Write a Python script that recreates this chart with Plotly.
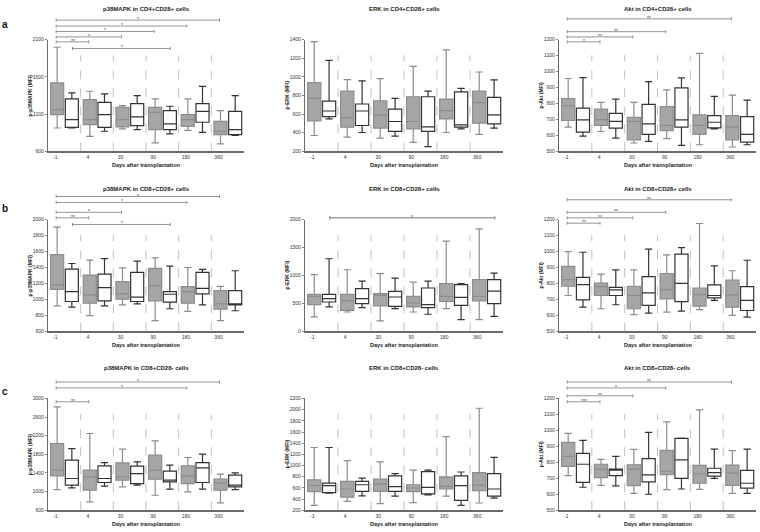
import plotly.graph_objects as go

# ---------------- data ----------------
days = ["-1", "4", "30", "90", "180", "360"]

panel_titles = [
    "p38MAPK in CD4+CD28+ cells", "ERK in CD4+CD28+ cells", "Akt in CD4+CD28+ cells",
    "p38MAPK in CD8+CD28+ cells", "ERK in CD8+CD28+ cells", "Akt in CD8+CD28+ cells",
    "p38MAPK in CD8+CD28- cells", "ERK in CD8+CD28- cells", "Akt in CD8+CD28- cells",
]
y_titles = ["p-p38MAPK (MFI)", "p-ERK (MFI)", "p-Akt (MFI)"] * 3
row_letters = ["a", "b", "c"]

y_ranges = [
    [600, 2100], [200, 1400], [500, 1200],
    [600, 2000], [0, 2000], [500, 1200],
    [600, 3000], [200, 2200], [500, 1200],
]
y_ticks = [
    [600, 1100, 1600, 2100], list(range(200, 1401, 200)), list(range(500, 1201, 100)),
    list(range(600, 2001, 200)), list(range(0, 2001, 500)), list(range(500, 1201, 100)),
    list(range(600, 3001, 400)), list(range(200, 2201, 200)), list(range(500, 1201, 100)),
]

# gray (filled) series: lower whisker, Q1, median, Q3, upper whisker per day
gray_lo = [
    [913, 801, 900, 712, 882, 699],
    [370, 353, 342, 296, 402, 381],
    [651, 624, 552, 579, 541, 527],
    [919, 795, 931, 733, 849, 733],
    [256, 345, 185, 345, 405, 208],
    [724, 641, 604, 620, 635, 599],
    [1044, 779, 1101, 922, 994, 758],
    [288, 358, 317, 335, 451, 329],
    [717, 656, 606, 629, 631, 606],
]
gray_q1 = [
    [1093, 958, 927, 891, 936, 824],
    [527, 459, 449, 441, 548, 502],
    [693, 662, 572, 630, 606, 572],
    [1126, 952, 1002, 981, 952, 878],
    [476, 375, 452, 435, 536, 542],
    [782, 724, 641, 703, 657, 651],
    [1338, 1030, 1245, 1266, 1173, 1030],
    [533, 434, 539, 533, 580, 551],
    [775, 704, 654, 723, 669, 656],
]
gray_med = [
    [1160, 1025, 1025, 1124, 1025, 869],
    [768, 562, 591, 520, 637, 722],
    [786, 699, 688, 662, 662, 651],
    [1180, 1056, 1068, 1172, 1097, 944],
    [625, 548, 643, 506, 625, 625],
    [823, 780, 724, 761, 730, 728],
    [1460, 1316, 1316, 1460, 1331, 1187],
    [639, 580, 668, 598, 627, 650],
    [837, 758, 758, 744, 727, 733],
]
gray_q3 = [
    [1518, 1294, 1191, 1191, 1093, 1003],
    [938, 846, 743, 786, 761, 846],
    [831, 765, 713, 780, 728, 724],
    [1561, 1304, 1221, 1387, 1159, 1109],
    [661, 661, 673, 625, 851, 923],
    [906, 802, 782, 862, 771, 821],
    [2033, 1460, 1617, 1782, 1553, 1266],
    [744, 715, 756, 656, 796, 873],
    [925, 788, 785, 875, 781, 783],
]
gray_hi = [
    [1997, 1406, 1213, 1303, 1303, 1146],
    [1379, 970, 981, 1112, 1290, 1052],
    [956, 806, 806, 885, 1113, 852],
    [1905, 1491, 1395, 1520, 1399, 1163],
    [1012, 1101, 1030, 881, 1613, 1833],
    [999, 858, 885, 978, 1175, 879],
    [2821, 2248, 1911, 2090, 1732, 1374],
    [1323, 1089, 1066, 919, 1516, 2025],
    [981, 819, 881, 1054, 1129, 873],
]

# white (open) series
white_lo = [
    [913, 869, 891, 833, 855, 815],
    [548, 402, 363, 250, 441, 449],
    [595, 583, 562, 537, 641, 541],
    [902, 919, 944, 882, 931, 857],
    [435, 423, 405, 304, 208, 268],
    [651, 666, 614, 626, 693, 589],
    [1080, 1116, 1137, 1051, 1051, 1044],
    [504, 457, 451, 475, 288, 416],
    [644, 652, 600, 633, 700, 606],
]
white_q1 = [
    [922, 922, 945, 891, 990, 824],
    [573, 477, 413, 413, 459, 495],
    [620, 645, 606, 651, 647, 558],
    [973, 981, 973, 965, 1068, 930],
    [524, 494, 446, 423, 464, 494],
    [697, 724, 662, 686, 709, 630],
    [1137, 1195, 1173, 1209, 1195, 1101],
    [516, 539, 539, 492, 375, 451],
    [675, 717, 677, 700, 713, 638],
]
white_med = [
    [1025, 1093, 1061, 967, 1137, 891],
    [633, 633, 520, 463, 484, 591],
    [697, 688, 672, 697, 682, 606],
    [1097, 1147, 1027, 1064, 1138, 935],
    [583, 583, 613, 476, 607, 720],
    [792, 759, 740, 800, 724, 693],
    [1281, 1281, 1388, 1245, 1510, 1137],
    [639, 656, 621, 609, 639, 580],
    [788, 752, 721, 815, 735, 669],
]
white_q3 = [
    [1303, 1258, 1240, 1146, 1240, 1137],
    [740, 708, 654, 786, 839, 779],
    [771, 738, 794, 898, 724, 717],
    [1379, 1317, 1337, 1097, 1337, 1109],
    [661, 762, 714, 774, 833, 923],
    [838, 775, 842, 983, 790, 780],
    [1675, 1553, 1546, 1438, 1624, 1352],
    [685, 715, 814, 890, 814, 855],
    [856, 758, 823, 950, 763, 750],
]
white_hi = [
    [1384, 1370, 1348, 1205, 1473, 1348],
    [1176, 956, 768, 846, 875, 967],
    [962, 827, 937, 960, 844, 821],
    [1449, 1511, 1478, 1416, 1375, 1358],
    [1298, 899, 952, 899, 851, 1042],
    [995, 885, 1014, 1024, 910, 945],
    [1925, 1624, 1639, 1567, 1804, 1402],
    [1323, 773, 855, 919, 884, 1147],
    [937, 837, 988, 952, 883, 883],
]

# significance comparisons: (panel, from day, from series, to day, to series, label)
# series: 0 = gray, 1 = white
sig_pairs = [
    (0, 0, 0, 5, 0, "*"), (0, 0, 0, 4, 0, "*"), (0, 0, 0, 3, 0, "*"),
    (0, 0, 0, 2, 0, "*"), (0, 0, 0, 1, 0, "**"), (0, 0, 1, 3, 1, "*"),
    (2, 0, 0, 5, 0, "**"), (2, 0, 0, 3, 0, "**"), (2, 0, 0, 2, 0, "**"), (2, 0, 0, 1, 0, "*"),
    (3, 0, 0, 5, 0, "*"), (3, 0, 0, 4, 0, "*"), (3, 0, 0, 2, 0, "*"),
    (3, 0, 0, 1, 0, "**"), (3, 0, 1, 3, 1, "*"),
    (4, 0, 1, 5, 1, "*"),
    (5, 0, 0, 5, 0, "**"), (5, 0, 0, 3, 0, "**"), (5, 0, 0, 2, 0, "**"), (5, 0, 0, 1, 0, "**"),
    (6, 0, 0, 5, 0, "*"), (6, 0, 0, 4, 0, "*"), (6, 0, 0, 1, 0, "**"),
    (8, 0, 0, 5, 0, "**"), (8, 0, 0, 3, 0, "*"), (8, 0, 0, 2, 0, "**"), (8, 0, 0, 1, 0, "***"),
]
# vertical level (page pixels) of each comparison bracket, same order as sig_pairs
sig_levels_px = [
    17.3, 23.3, 28.8, 34.3, 39.3, 46.0,
    16.0, 29.0, 34.3, 39.3,
    195.7, 201.7, 211.7, 217.3, 224.0,
    217.3,
    199.0, 211.7, 217.3, 222.7,
    383.3, 389.3, 403.3,
    383.3, 389.3, 397.3, 403.3,
]

# ---------------- layout geometry ----------------
W, H = 760, 532
col_px = [(48, 244), (305, 503), (559, 756)]
row_px = [(37, 150), (219, 332), (400, 513)]
title_px = [6, 188, 369]
letter_px = [22, 208, 393]


def X(px):
    return px / W


def Y(py):
    return 1 - py / H


FONT = "Liberation Sans, Arial, sans-serif"
GRAY_FILL, GRAY_LINE = "#a6a6a6", "#8c8c8c"
WHITE_FILL, WHITE_LINE = "#ffffff", "#333333"
AX_COLOR = "#6a6a6a"
SEP_COLOR = "#b0b0b0"
BR_COLOR = "#7a7a7a"
GRAY_OFF, WHITE_OFF, TICK_OFF = 0.28, 0.73, 0.22

fig = go.Figure()
shapes, annotations = [], []
layout = dict(
    width=W, height=H, margin=dict(l=0, r=0, t=0, b=0),
    paper_bgcolor="white", plot_bgcolor="white", showlegend=False,
    font=dict(family=FONT, color="#333333"),
)

for k in range(9):
    r, c = divmod(k, 3)
    sfx = "" if k == 0 else str(k + 1)
    xa, ya = "x" + sfx, "y" + sfx
    x0p, x1p = col_px[c]
    y0p, y1p = row_px[r]

    layout["xaxis" + sfx] = dict(
        domain=[X(x0p), X(x1p)], range=[0, 6], anchor=ya,
        tickvals=[i + TICK_OFF for i in range(6)], ticktext=days,
        tickfont=dict(size=5, color="#333"), ticks="",
        showline=True, linecolor=AX_COLOR, linewidth=1.3,
        showgrid=False, zeroline=False, fixedrange=True,
    )
    layout["yaxis" + sfx] = dict(
        domain=[Y(y1p), Y(y0p)], range=y_ranges[k], anchor=xa,
        tickvals=y_ticks[k], tickfont=dict(size=5, color="#333"),
        ticks="outside", ticklen=2, tickwidth=0.8, tickcolor=AX_COLOR,
        showline=True, linecolor=AX_COLOR, linewidth=1.2,
        showgrid=False, zeroline=False, fixedrange=True,
    )

    for pos_off, lo, q1, med, q3, hi, fc, lc in [
        (GRAY_OFF, gray_lo, gray_q1, gray_med, gray_q3, gray_hi, GRAY_FILL, GRAY_LINE),
        (WHITE_OFF, white_lo, white_q1, white_med, white_q3, white_hi, WHITE_FILL, WHITE_LINE),
    ]:
        fig.add_trace(go.Box(
            x=[i + pos_off for i in range(6)],
            lowerfence=lo[k], q1=q1[k], median=med[k], q3=q3[k], upperfence=hi[k],
            orientation="v", width=0.4, whiskerwidth=0.55,
            fillcolor=fc, line=dict(color=lc, width=1.2),
            boxpoints=False, hoverinfo="skip", xaxis=xa, yaxis=ya,
        ))

    # dashed separators between day groups
    for i in range(1, 6):
        shapes.append(dict(
            type="line", xref=xa, yref=ya + " domain", x0=i, x1=i, y0=0, y1=0.86,
            line=dict(color=SEP_COLOR, width=0.8, dash="dash"),
        ))

    xc = (x0p + x1p) / 2
    annotations.append(dict(
        text="<b>" + panel_titles[k] + "</b>", xref="paper", yref="paper",
        x=X(xc), y=Y(title_px[r]), showarrow=False, xanchor="center", yanchor="middle",
        font=dict(size=6, color="#222"),
    ))
    annotations.append(dict(
        text="<b>Days after transplantation</b>", xref="paper", yref="paper",
        x=X(xc), y=Y(y1p + 14), showarrow=False, xanchor="center", yanchor="middle",
        font=dict(size=5.5, color="#222"),
    ))
    annotations.append(dict(
        text="<b>" + y_titles[k] + "</b>", xref="paper", yref="paper",
        x=X(x0p - 18), y=Y((y0p + y1p) / 2), showarrow=False, textangle=-90,
        xanchor="center", yanchor="middle", font=dict(size=5, color="#222"),
    ))

for r in range(3):
    annotations.append(dict(
        text="<b>" + row_letters[r] + "</b>", xref="paper", yref="paper",
        x=X(5), y=Y(letter_px[r]), showarrow=False, xanchor="center", yanchor="middle",
        font=dict(size=10, color="#111"),
    ))

# significance brackets
offs = [GRAY_OFF - 0.03, WHITE_OFF + 0.02]
for (k, d0, s0, d1, s1, lab), lev in zip(sig_pairs, sig_levels_px):
    sfx = "" if k == 0 else str(k + 1)
    xa = "x" + sfx
    xa_ = d0 + offs[s0]
    xb_ = d1 + offs[s1]
    yl = Y(lev)
    dy = 1.6 / H
    wide = (k == 4)
    col = "#a0a0a0" if wide else BR_COLOR
    lw = 1.5 if wide else 0.8
    path = (f"M {xa_},{yl - dy} L {xa_},{yl + dy} M {xa_},{yl} L {xb_},{yl} "
            f"M {xb_},{yl - dy} L {xb_},{yl + dy}")
    shapes.append(dict(type="path", xref=xa, yref="paper", path=path,
                       line=dict(color=col, width=lw)))
    annotations.append(dict(
        text=lab, xref=xa, yref="paper", x=(xa_ + xb_) / 2, y=Y(lev - 1.0),
        showarrow=False, xanchor="center", yanchor="middle",
        font=dict(size=5, color="#444"),
    ))

layout["shapes"] = shapes
layout["annotations"] = annotations
layout["boxmode"] = "overlay"
fig.update_layout(**layout)

fig.write_html(
    "out.html",
    config={"displayModeBar": False, "staticPlot": True},
    post_script="document.body.style.margin='0';document.body.style.overflow='hidden';",
)
